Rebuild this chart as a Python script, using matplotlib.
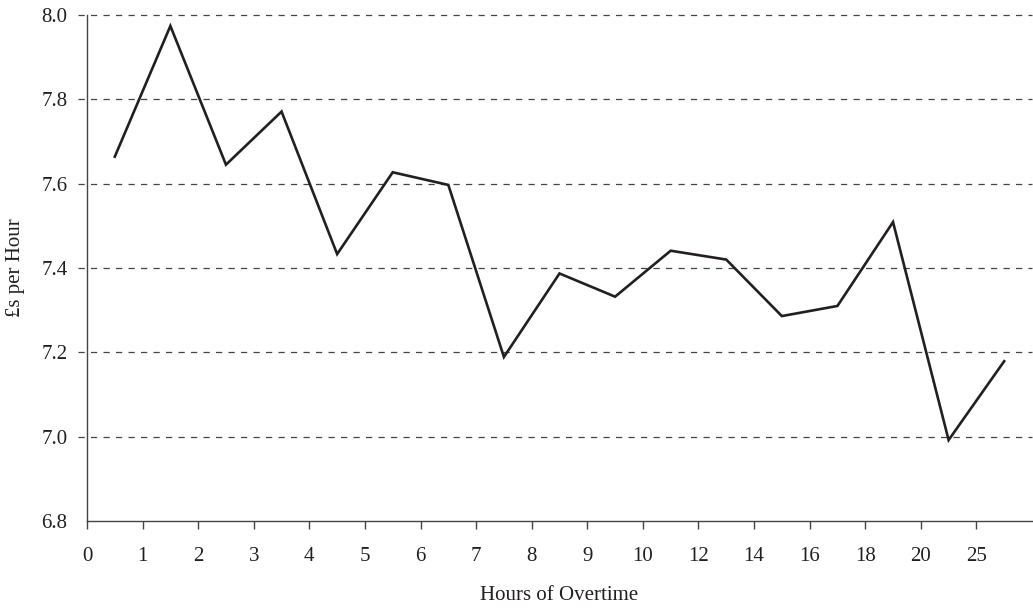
import numpy as np
import matplotlib
matplotlib.use("Agg")
import matplotlib.pyplot as plt

# overtime hour bands and average pay rate in each band
hour_labels = ["0", "1", "2", "3", "4", "5", "6", "7", "8", "9", "10",
               "12", "14", "16", "18", "20", "25"]
pay_rate = [7.664, 7.974, 7.645, 7.771, 7.433, 7.627, 7.597, 7.189, 7.387,
            7.332, 7.441, 7.420, 7.286, 7.310, 7.509, 6.992, 7.179]
y_ticks = [6.8, 7.0, 7.2, 7.4, 7.6, 7.8, 8.0]

plt.rcParams["font.family"] = ["Liberation Serif", "DejaVu Serif"]
plt.rcParams["font.size"] = 15

fig = plt.figure(figsize=(10.33, 6.09), dpi=100)
ax = fig.add_axes([87 / 1033, 1 - 521 / 609, (1032 - 87) / 1033, (521 - 15) / 609])

n = len(pay_rate)
x = np.arange(n) + 0.5
ax.plot(x, pay_rate, color="#231f20", linewidth=1.9, solid_joinstyle="miter")

# dashed gridlines that poke out a little left of the axis
for yv in y_ticks[1:]:
    ax.axhline(yv, xmin=-0.0095, xmax=1, color="#444444", linewidth=0.9,
               linestyle=(0, (5, 5)), clip_on=False, zorder=0)

ax.set_xlim(0, n)
ax.set_ylim(6.8, 8.0)
ax.set_xticks(np.arange(n))
ax.set_xticklabels(hour_labels)
ax.set_yticks(y_ticks)
ax.set_yticklabels([f"{v:.1f}" for v in y_ticks])

for s in ["top", "right"]:
    ax.spines[s].set_visible(False)
for s in ["left", "bottom"]:
    ax.spines[s].set_color("#444444")
    ax.spines[s].set_linewidth(1.0)

ax.tick_params(axis="x", direction="out", length=6, width=1.0, color="#444444",
               pad=13, labelcolor="#231f20")
ax.tick_params(axis="y", length=0, pad=14, labelcolor="#231f20")

ax.set_xlabel("Hours of Overtime", color="#231f20", labelpad=14)
ax.set_ylabel("£s per Hour", color="#231f20", labelpad=12)

fig.savefig("out.png", dpi=100)
